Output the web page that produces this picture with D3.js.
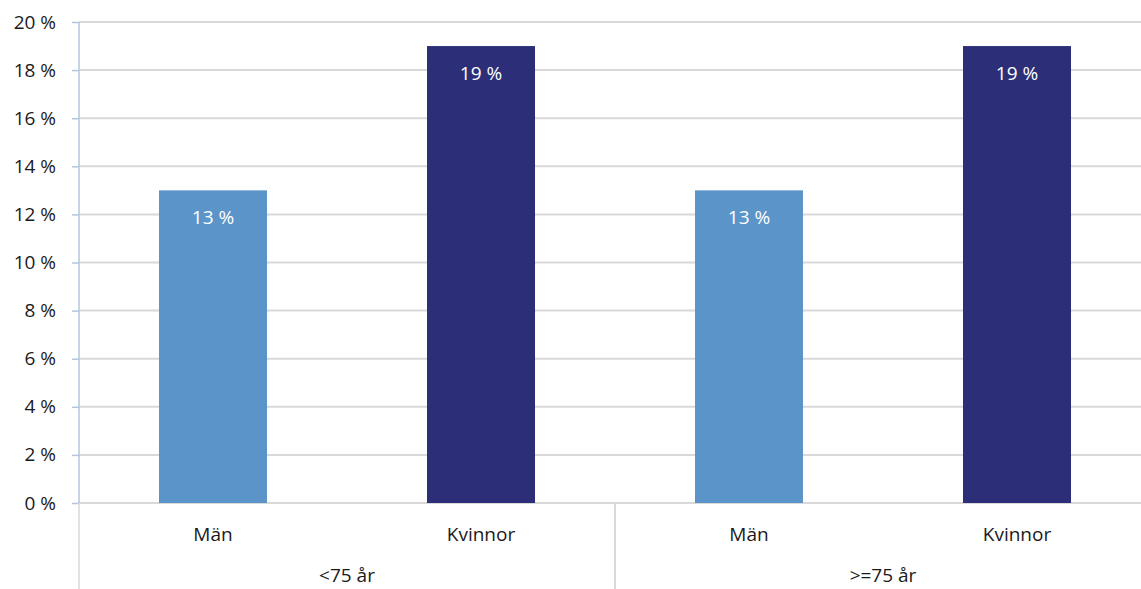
<!DOCTYPE html>
<meta charset="utf-8">
<style>
  body { margin: 0; background: #fff; }
  text { font-family: "Open Sans", sans-serif; }
</style>
<div id="chart"></div>
<script src="https://cdn.jsdelivr.net/npm/d3@7"></script>
<script>

// data
var ageGroups = ["<75 år", ">=75 år"];
var sexes = ["Män", "Kvinnor"];
var valuesMen = [13, 13];
var valuesWomen = [19, 19];
var yTicks = [0, 2, 4, 6, 8, 10, 12, 14, 16, 18, 20];
var colors = {"Män": "#5b94c8", "Kvinnor": "#2c2f78"};

var W = 1141, H = 589;
var plotLeft = 79, plotRight = 1151, plotTop = 22, plotBottom = 503;
var fontSize = "19px";

var rows = [];
ageGroups.forEach(function(g, i) {
  rows.push({group: g, sex: sexes[0], value: valuesMen[i]});
  rows.push({group: g, sex: sexes[1], value: valuesWomen[i]});
});

var svg = d3.select("#chart").append("svg")
  .attr("width", W)
  .attr("height", H);

// scales
var x = d3.scaleBand()
  .domain(rows.map(function(d) { return d.group + "|" + d.sex; }))
  .range([plotLeft, plotRight])
  .paddingInner(0.597)
  .paddingOuter(0.2985);

var xGroup = d3.scaleBand()
  .domain(ageGroups)
  .range([plotLeft, plotRight]);

var y = d3.scaleLinear()
  .domain([0, 20])
  .range([plotBottom, plotTop]);

// gridlines
svg.append("g")
  .selectAll("line")
  .data(yTicks)
  .enter()
  .append("line")
    .attr("x1", plotLeft).attr("x2", W)
    .attr("y1", function(d) { return y(d); })
    .attr("y2", function(d) { return y(d); })
    .style("stroke", "#d9d9d9")
    .style("stroke-width", 2);

// y axis
var yAxis = svg.append("g")
  .attr("transform", "translate(" + plotLeft + ",0)")
  .call(d3.axisLeft(y).tickValues(yTicks).tickSize(7).tickPadding(16)
    .tickFormat(function(d) { return d + " %"; }));
yAxis.select(".domain").remove();
yAxis.selectAll(".tick line").style("stroke", "#b4c4de").style("stroke-width", 1.5);
yAxis.selectAll("text").style("font-size", fontSize).style("fill", "#1a1a1a");

svg.append("line")
  .attr("x1", plotLeft).attr("x2", plotLeft)
  .attr("y1", plotTop).attr("y2", plotBottom)
  .style("stroke", "#b4c4de").style("stroke-width", 1.5);
svg.append("line")
  .attr("x1", plotLeft).attr("x2", plotLeft)
  .attr("y1", plotBottom).attr("y2", H)
  .style("stroke", "#d9d9d9").style("stroke-width", 1.5);

// group separators
svg.append("g")
  .selectAll("line")
  .data(ageGroups.slice(1))
  .enter()
  .append("line")
    .attr("x1", function(d) { return xGroup(d); })
    .attr("x2", function(d) { return xGroup(d); })
    .attr("y1", plotBottom).attr("y2", H)
    .style("stroke", "#d9d9d9").style("stroke-width", 2);

// bars
svg.append("g")
  .selectAll("rect")
  .data(rows)
  .enter()
  .append("rect")
    .attr("x", function(d) { return x(d.group + "|" + d.sex); })
    .attr("width", x.bandwidth())
    .attr("y", function(d) { return y(d.value); })
    .attr("height", function(d) { return y(0) - y(d.value); })
    .style("fill", function(d) { return colors[d.sex]; });

// value labels
svg.append("g")
  .selectAll("text")
  .data(rows)
  .enter()
  .append("text")
    .attr("x", function(d) { return x(d.group + "|" + d.sex) + x.bandwidth() / 2; })
    .attr("y", function(d) { return y(d.value) + 34; })
    .attr("text-anchor", "middle")
    .style("font-size", fontSize)
    .style("fill", "#ffffff")
    .text(function(d) { return d.value + " %"; });

// category labels
svg.append("g")
  .selectAll("text")
  .data(rows)
  .enter()
  .append("text")
    .attr("x", function(d) { return x(d.group + "|" + d.sex) + x.bandwidth() / 2; })
    .attr("y", 541)
    .attr("text-anchor", "middle")
    .style("font-size", fontSize)
    .style("fill", "#1a1a1a")
    .text(function(d) { return d.sex; });

// group labels
svg.append("g")
  .selectAll("text")
  .data(ageGroups)
  .enter()
  .append("text")
    .attr("x", function(d) { return xGroup(d) + xGroup.bandwidth() / 2; })
    .attr("y", 582)
    .attr("text-anchor", "middle")
    .style("font-size", fontSize)
    .style("fill", "#1a1a1a")
    .text(function(d) { return d; });

</script>
